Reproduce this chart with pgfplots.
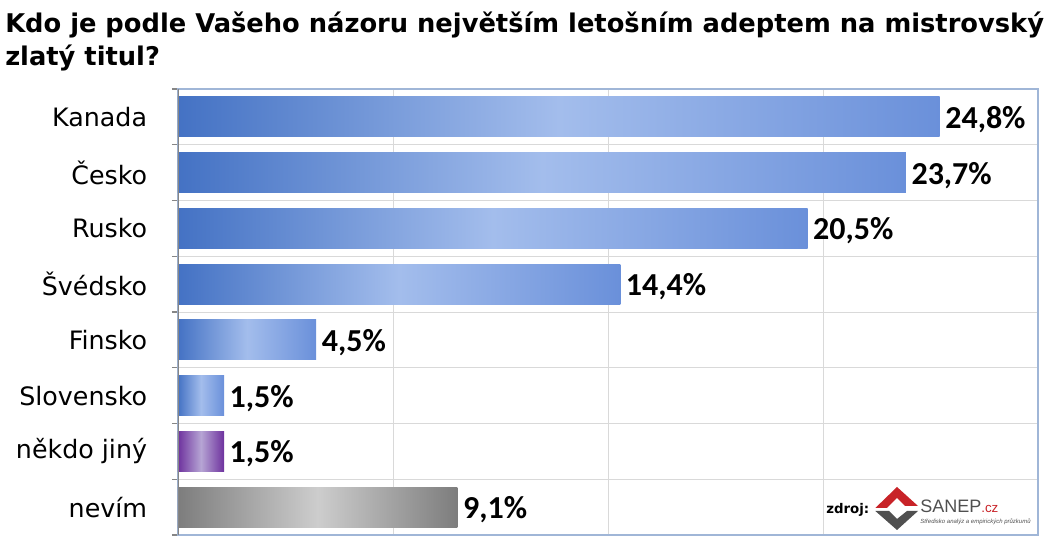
\documentclass[border=0pt]{standalone}
\usepackage{pgfplots}
\pgfplotsset{compat=1.18}
\usepackage{fontspec}
\setmainfont{DejaVu Sans}
\newfontfamily\carlito{Carlito}
\newfontfamily\libsans{Liberation Sans}
\definecolor{blueL}{RGB}{68,114,196}
\definecolor{blueM}{RGB}{163,189,236}
\definecolor{blueR}{RGB}{106,144,218}
\definecolor{purL}{RGB}{110,50,158}
\definecolor{purM}{RGB}{182,165,212}
\definecolor{grL}{RGB}{125,125,125}
\definecolor{grM}{RGB}{205,205,205}
\definecolor{gridcol}{RGB}{217,217,217}
\definecolor{bordercol}{RGB}{160,182,215}
\definecolor{axisgray}{RGB}{134,134,134}
\definecolor{sanred}{RGB}{200,35,40}
\definecolor{sangray}{RGB}{80,80,80}
\pgfplotsset{
  bluebar/.style={draw=none, left color=blueL, right color=blueR, middle color=blueM},
  purbar/.style={draw=none, left color=purL, right color=purL, middle color=purM},
  graybar/.style={draw=none, left color=grL, right color=grL, middle color=grM},
}
\begin{document}
\begin{tikzpicture}
\useasboundingbox (-133.5pt,-9.75pt) rectangle (654pt,401.25pt);
\begin{axis}[at={(0,0)}, anchor=south west, scale only axis,
  width=645pt, height=334.5pt,
  xbar, bar width=30pt, bar shift=0pt,
  xmin=0, xmax=28, ymin=-0.5, ymax=7.5, y dir=reverse,
  xtick={0,7,...,28}, xticklabels={}, xmajorgrids,
  major x tick style={draw=none},
  ytick={0,...,7},
  yticklabels={Kanada,Česko,Rusko,Švédsko,Finsko,Slovensko,někdo jiný,nevím},
  minor ytick={-0.5,0.5,...,7.5}, yminorgrids,
  major tick length=0pt, minor tick length=4.5pt, tick align=outside,
  ytick pos=left, xtick pos=bottom,
  minor y tick style={axisgray, line width=0.8pt},
  grid style={color=gridcol, line width=0.7pt},
  minor grid style={color=gridcol, line width=0.7pt},
  axis line style={bordercol, line width=0.9pt},
  yticklabel style={font=\fontsize{19}{22}\selectfont, text=black, anchor=east, inner sep=0pt, xshift=-23pt},
  nodes near coords={\pgfmathprintnumber{\pgfplotspointmeta}\%},
  nodes near coords style={font=\carlito\bfseries\fontsize{24}{28}\selectfont, anchor=west, inner xsep=4pt, yshift=-2pt, text=black},
  /pgf/number format/.cd, fixed, fixed zerofill, precision=1, use comma, assume math mode=true,
]
\addplot[bluebar] coordinates {(24.8,0)};
\addplot[bluebar] coordinates {(23.7,1)};
\addplot[bluebar] coordinates {(20.5,2)};
\addplot[bluebar] coordinates {(14.4,3)};
\addplot[bluebar] coordinates {(4.5,4)};
\addplot[bluebar] coordinates {(1.5,5)};
\addplot[purbar] coordinates {(1.5,6)};
\addplot[graybar] coordinates {(9.1,7)};
\draw[axisgray, line width=0.9pt] (rel axis cs:0,0) -- (rel axis cs:0,1);
\end{axis}
% title
\node[anchor=base west, font=\bfseries\fontsize{19.3}{22}\selectfont, inner sep=0pt] at (-129.75pt,377pt) {Kdo je podle Vašeho názoru největším letošním adeptem na mistrovský};
\node[anchor=base west, font=\bfseries\fontsize{19.3}{22}\selectfont, inner sep=0pt] at (-129.75pt,351.75pt) {zlatý titul?};
% source logo
\node[anchor=base west, font=\bfseries\fontsize{10}{12}\selectfont, inner sep=0pt] at (486pt,15.75pt) {zdroj:};
\fill[sanred] (523pt,20.25pt) -- (539.25pt,36pt) -- (555pt,21.75pt) -- (545.25pt,21.75pt) -- (539.25pt,27.75pt) -- (531.75pt,20.25pt) -- cycle;
\fill[sangray] (555pt,18pt) -- (539.25pt,3.75pt) -- (523pt,18pt) -- (533.25pt,18pt) -- (539.25pt,12pt) -- (546.75pt,18pt) -- cycle;
\node[anchor=base west, font=\libsans\fontsize{13.5}{15}\selectfont, inner sep=0pt, text=sangray] at (556.5pt,16.5pt) {SANEP\textcolor{sanred}{\fontsize{10}{12}\selectfont.cz}};
\node[anchor=base west, font=\libsans\itshape\fontsize{4.5}{5}\selectfont, inner sep=0pt, text=sangray] at (556.5pt,8.5pt) {Středisko analýz a empirických průzkumů};
\end{tikzpicture}
\end{document}
